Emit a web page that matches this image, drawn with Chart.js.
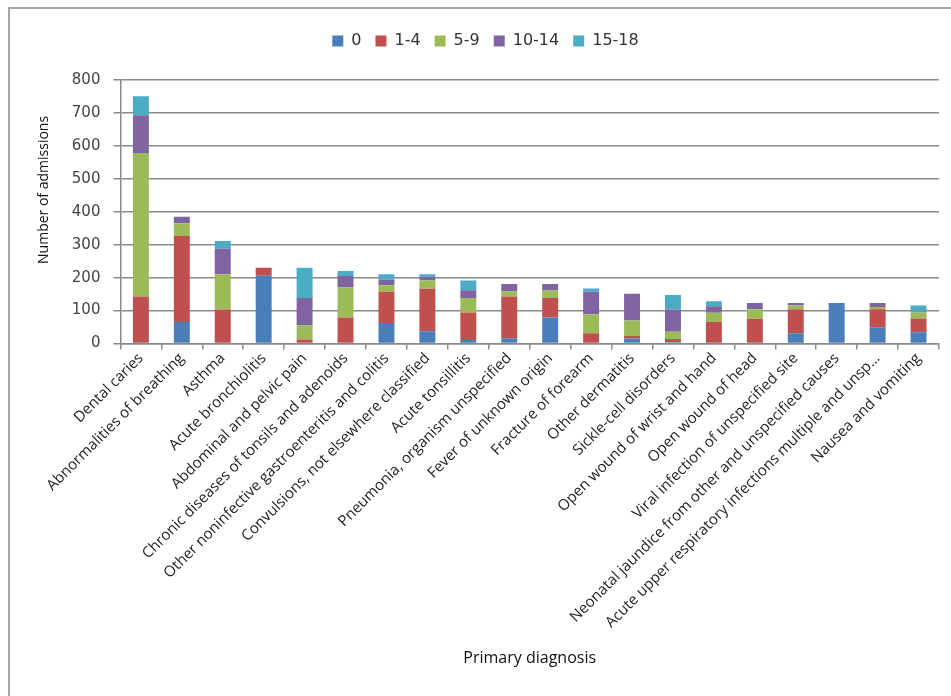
<!DOCTYPE html>
<html>
<head>
<meta charset="utf-8">
<script src="https://cdn.jsdelivr.net/npm/chart.js@4"></script>
<style>
  body { margin: 0; background: #fff; }
  #frame { position: absolute; left: 0; top: 0; width: 951px; height: 696px; }
  #edge { position: absolute; left: 8px; top: 7px; width: 943px; height: 689px;
          border-left: 2px solid #a6a6a6; border-top: 2px solid #a6a6a6; }
</style>
</head>
<body>
<div id="frame">
  <div id="edge"></div>
  <canvas id="admissions_chart"></canvas>
</div>
<script>
const diagnoses = [
  'Dental caries', 'Abnormalities of breathing', 'Asthma', 'Acute bronchiolitis',
  'Abdominal and pelvic pain', 'Chronic diseases of tonsils and adenoids',
  'Other noninfective gastroenteritis and colitis', 'Convulsions, not elsewhere classified',
  'Acute tonsillitis', 'Pneumonia, organism unspecified', 'Fever of unknown origin',
  'Fracture of forearm', 'Other dermatitis', 'Sickle-cell disorders',
  'Open wound of wrist and hand', 'Open wound of head', 'Viral infection of unspecified site',
  'Neonatal jaundice from other and unspecified causes',
  'Acute upper respiratory infections multiple and unsp...', 'Nausea and vomiting'
];

const age0    = [0, 65, 0, 206, 2, 0, 62, 37, 11, 16, 79, 0, 15, 4, 0, 0, 31, 123, 49, 34];
const age1_4  = [143, 261, 103, 24, 10, 79, 95, 129, 83, 127, 59, 31, 8, 10, 65, 75, 73, 0, 55, 42];
const age5_9  = [435, 39, 107, 0, 43, 92, 20, 26, 44, 16, 23, 58, 47, 22, 28, 29, 11, 0, 7, 18];
const age10_14 = [115, 20, 78, 0, 83, 34, 17, 11, 24, 22, 20, 68, 81, 67, 20, 19, 8, 0, 12, 3];
const age15_18 = [58, 0, 23, 0, 92, 15, 16, 7, 29, 0, 0, 10, 0, 44, 15, 0, 0, 0, 0, 18];

const yTicks = [0, 100, 200, 300, 400, 500, 600, 700, 800];

const ctx = document.getElementById('admissions_chart');

function series(label, data, color) {
  return {
    label: label,
    data: data,
    backgroundColor: color,
    borderWidth: 0,
    categoryPercentage: 1,
    barPercentage: 0.39
  };
}

// extra room under the legend
const legendGap = {
  id: 'legendGap',
  beforeInit(chart) {
    const fit = chart.legend.fit;
    chart.legend.fit = function () {
      fit.bind(chart.legend)();
      this.height += 21;
    };
  }
};

new Chart(ctx, {
  type: 'bar',
  data: {
    labels: diagnoses,
    datasets: [
      series('0', age0, '#4a7ebb'),
      series('1-4', age1_4, '#c0504d'),
      series('5-9', age5_9, '#9bbb59'),
      series('10-14', age10_14, '#8064a2'),
      series('15-18', age15_18, '#4bacc6')
    ]
  },
  plugins: [legendGap],
  options: {
    responsive: true,
    maintainAspectRatio: false,
    animation: false,
    layout: {
      padding: { left: 32, right: 12, top: 19, bottom: 28 }
    },
    plugins: {
      legend: {
        position: 'top',
        labels: {
          boxWidth: 11,
          boxHeight: 11,
          padding: 14,
          color: '#333',
          font: { family: 'DejaVu Sans', size: 16 }
        }
      },
      tooltip: { enabled: false }
    },
    scales: {
      x: {
        stacked: true,
        grid: {
          offset: true,
          drawOnChartArea: false,
          drawTicks: true,
          tickLength: 6,
          tickColor: '#8a8a8a',
          lineWidth: 1.5
        },
        border: { color: '#8a8a8a', width: 1.5 },
        ticks: {
          autoSkip: false,
          minRotation: 45,
          maxRotation: 45,
          padding: 0,
          color: '#222',
          font: { family: 'Open Sans', size: 15 }
        },
        title: {
          display: true,
          text: 'Primary diagnosis',
          color: '#111',
          padding: { top: 20, bottom: 0 },
          font: { family: 'Open Sans', size: 16 }
        }
      },
      y: {
        stacked: true,
        min: 0,
        max: 800,
        afterBuildTicks: (axis) => { axis.ticks = yTicks.map(v => ({ value: v })); },
        grid: {
          color: '#8a8a8a',
          lineWidth: 1.5,
          drawTicks: true,
          tickLength: 7,
          tickColor: '#8a8a8a'
        },
        border: { color: '#8a8a8a', width: 1.5 },
        ticks: {
          padding: 13,
          color: '#444',
          font: { family: 'DejaVu Sans', size: 15 }
        },
        title: {
          display: true,
          text: '\u00a0'.repeat(12) + 'Number of admissions',
          color: '#111',
          padding: { top: 4, bottom: 6 },
          font: { family: 'Open Sans', size: 14 }
        }
      }
    }
  }
});
</script>
</body>
</html>
